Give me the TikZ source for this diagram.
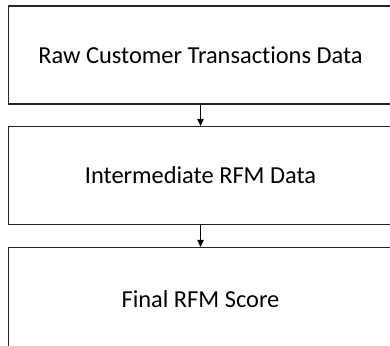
\documentclass[tikz,border=0pt]{standalone}
\usepackage{fontspec}
\setmainfont[Ligatures={NoCommon,NoRare}]{Carlito}
\usetikzlibrary{arrows.meta}
\tikzset{
  stagebox/.style={draw=black!85, line width=1.3pt, minimum width=384pt,
    minimum height=98pt, inner sep=0pt, font=\fontsize{24.4}{28}\selectfont},
  flow/.style={line width=1.3pt, -{Triangle[width=6.5pt,length=7pt]}}
}
\begin{document}
\begin{tikzpicture}[x=1pt, y=1pt]
        \useasboundingbox (0, 0) rectangle (390, -345);
        % boxes
        \node[stagebox] (raw) at (200.5, -55) {Raw Customer Transactions Data};
        \node[stagebox] (mid) at (200.5, -175.5) {Intermediate RFM Data};
        \node[stagebox, minimum height=110pt] (score) at (200.5, -302.5)
          {\raisebox{7pt}{Final RFM Score}};
        % arrows
        \draw[flow] (raw) -- (mid);
        \draw[flow] (mid) -- (score);
      \end{tikzpicture}
\end{document}
